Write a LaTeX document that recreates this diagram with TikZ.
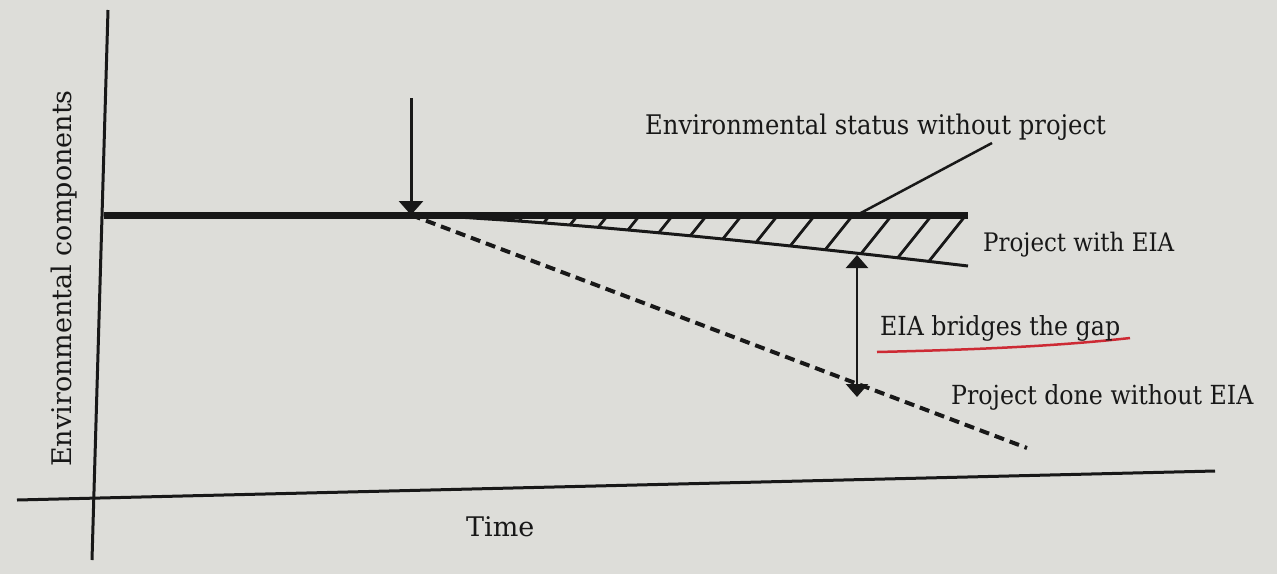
\documentclass[tikz,border=0pt]{standalone}
\usepackage{fontspec}
\setmainfont{DejaVu Serif}
\newfontfamily\lblfont[FakeStretch=0.9]{DejaVu Serif}
\usetikzlibrary{arrows.meta}
\definecolor{paper}{RGB}{221,221,217}
\definecolor{ink}{RGB}{24,24,24}
\definecolor{pen}{RGB}{205,42,52}
\begin{document}
\begin{tikzpicture}[x=1pt,y=-1pt,
  lbl/.style={font=\lblfont\fontsize{26.3}{30}\selectfont, text=ink, inner sep=0pt, anchor=base west},
  axlbl/.style={font=\fontsize{27}{30}\selectfont, text=ink, inner sep=0pt, anchor=base west},
  axis/.style={draw=ink, line width=3pt},
  thickln/.style={draw=ink, line width=7pt},
  thinln/.style={draw=ink, line width=3pt},
  dashln/.style={draw=ink, line width=4pt, dash pattern=on 10pt off 6pt},
  hatch/.style={draw=ink, line width=2.8pt},
  tipone/.style={-{Triangle[length=14pt,width=24pt]}},
  tiptwo/.style={{Triangle[length=13pt,width=22pt]}-{Triangle[length=13pt,width=22pt]}},
]
\fill[paper] (0,0) rectangle (1277,574);
\useasboundingbox (0,0) rectangle (1277,574);

% coordinates
\coordinate (vtop) at (108,10);
\coordinate (vbot) at (92,560);
\coordinate (hleft) at (17,500);
\coordinate (hright) at (1215,471);
\coordinate (base0) at (104,215);
\coordinate (start) at (411,215);
\coordinate (base1) at (968,215);
\coordinate (dash1) at (1027,448);
\coordinate (arrtop) at (411,98);
\coordinate (gaptop) at (857,255);
\coordinate (gapbot) at (857,397);
\coordinate (lead0) at (857,215);
\coordinate (lead1) at (992,143);
\coordinate (red0) at (877,352);
\coordinate (red1) at (1130,338);

% axes
\draw[axis] (vtop) -- (vbot);
\draw[axis] (hleft) -- (hright);

% hatching between the two lines
\foreach \tx in {470,500,524,550,578,608,640,673,707,742,778,815,853,892,932,966} {
  \pgfmathsetmacro\xa{\tx}
  \pgfmathsetmacro\ya{215+51*((\xa-411)/557)^1.3}
  \pgfmathsetmacro\xa{\tx-0.8*(\ya-215)}
  \pgfmathsetmacro\ya{215+51*((\xa-411)/557)^1.3}
  \pgfmathsetmacro\xa{\tx-0.8*(\ya-215)}
  \pgfmathsetmacro\ya{215+51*((\xa-411)/557)^1.3}
  \pgfmathsetmacro\xa{\tx-0.8*(\ya-215)}
  \pgfmathsetmacro\ya{215+51*((\xa-411)/557)^1.3}
  \draw[hatch] (\xa,\ya) -- (\tx,215);
}

% lines
\draw[thickln] (base0) -- (base1);
\draw[thinln] (start) -- plot[domain=411.5:968, samples=40] (\x, {215+51*((\x-411)/557)^1.3});
\draw[dashln] (start) -- (dash1);
\draw[thinln, line width=2.5pt] (lead0) -- (lead1);
\draw[thinln, tipone] (arrtop) -- (start);
\draw[thinln, line width=2.5pt, tiptwo] (gaptop) -- (gapbot);
\draw[pen, line width=2.5pt] (red0) .. controls (960,350) and (1050,347) .. (red1);

% labels
\node[lbl, font=\lblfont\fontsize{27}{30}\selectfont] (status) at (645,134) {Environmental status without project};
\node[lbl, font=\lblfont\fontsize{25.5}{30}\selectfont] (with) at (983,251) {Project with EIA};
\node[lbl] (gap) at (880,335) {EIA bridges the gap};
\node[lbl] (without) at (951,404) {Project done without EIA};
\node[axlbl] (time) at (466,536) {Time};
\node[axlbl, rotate=90] (ylab) at (71,467) {Environmental components};
\end{tikzpicture}
\end{document}
